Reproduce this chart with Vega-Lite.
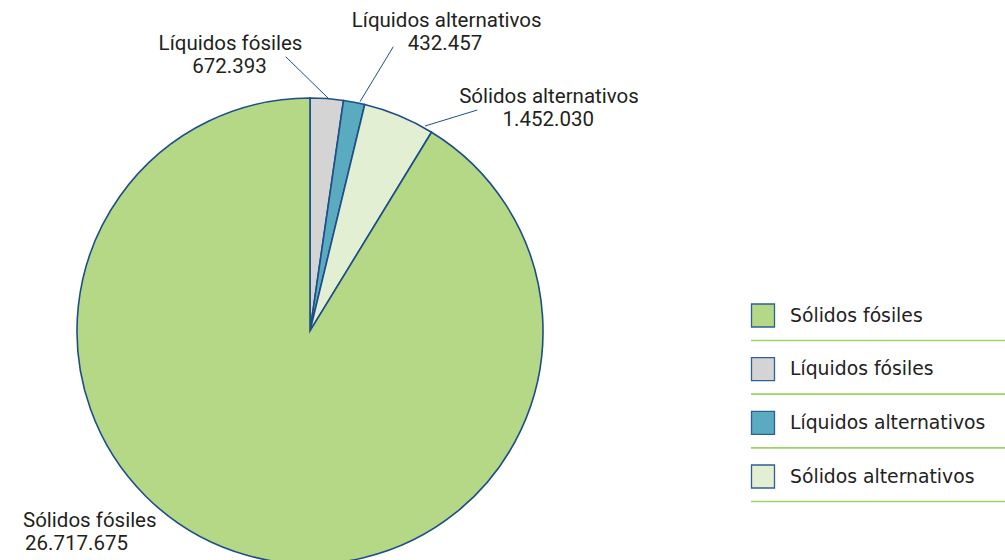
{
  "$schema": "https://vega.github.io/schema/vega-lite/v6.json",
  "width": 1005,
  "height": 560,
  "autosize": {"type": "none"},
  "padding": 0,
  "background": "white",
  "config": {
    "view": {"stroke": null},
    "text": {"font": "Roboto", "fontSize": 20.5, "color": "#231f20"},
    "locale": {"number": {"decimal": ",", "thousands": ".", "grouping": [3], "currency": ["", " €"]}}
  },
  "data": {
    "values": [
      {"category": "Líquidos fósiles", "value": 672393, "orden": 1},
      {"category": "Líquidos alternativos", "value": 432457, "orden": 2},
      {"category": "Sólidos alternativos", "value": 1452030, "orden": 3},
      {"category": "Sólidos fósiles", "value": 26717675, "orden": 4}
    ]
  },
  "resolve": {"scale": {"y": "independent"}},
  "layer": [
    {
      "mark": {"type": "arc", "outerRadius": 233, "stroke": "#1d4e89", "strokeWidth": 1.6},
      "encoding": {
        "x": {"datum": 310, "type": "quantitative", "scale": {"domain": [0, 1005], "nice": false, "zero": false}, "axis": null},
        "y": {"datum": 331, "type": "quantitative", "scale": {"domain": [0, 560], "reverse": true, "nice": false, "zero": false}, "axis": null},
        "theta": {"field": "value", "type": "quantitative", "stack": true},
        "order": {"field": "orden", "type": "quantitative"},
        "color": {
          "field": "category",
          "type": "nominal",
          "scale": {
            "domain": ["Sólidos fósiles", "Líquidos fósiles", "Líquidos alternativos", "Sólidos alternativos"],
            "range": ["#b4d886", "#d4d4d4", "#5aabbf", "#e3efd2"]
          },
          "legend": null
        }
      }
    },
    {
      "encoding": {
        "y": {"field": "category", "type": "nominal", "scale": {"type": "point", "padding": 0, "domain": ["Sólidos fósiles", "Líquidos fósiles", "Líquidos alternativos", "Sólidos alternativos"], "range": [315.5, 476.5]}, "axis": null}
      },
      "layer": [
        {
          "mark": {"type": "rule", "color": "#9dd35f", "strokeWidth": 1.6, "yOffset": 25},
          "encoding": {
            "x": {"datum": 751, "type": "quantitative", "scale": {"domain": [0, 1005], "nice": false, "zero": false}, "axis": null},
            "x2": {"datum": 1005}
          }
        },
        {
          "mark": {"type": "square", "size": 529, "filled": true, "opacity": 1, "stroke": "#2f5f98", "strokeWidth": 1.3},
          "encoding": {
            "x": {"datum": 763, "type": "quantitative", "scale": {"domain": [0, 1005], "nice": false, "zero": false}, "axis": null},
            "color": {"field": "category", "type": "nominal", "legend": null}
          }
        },
        {
          "mark": {"type": "text", "align": "left", "baseline": "middle", "font": "DejaVu Sans", "fontSize": 18.8, "color": "#222222"},
          "encoding": {
            "x": {"datum": 790, "type": "quantitative", "scale": {"domain": [0, 1005], "nice": false, "zero": false}, "axis": null},
            "text": {"field": "category", "type": "nominal"}
          }
        }
      ]
    },
    {
      "transform": [{"filter": "datum.orden == 1"}],
      "layer": [
        {
          "mark": {"type": "rule", "color": "#1d4e89", "strokeWidth": 1},
          "encoding": {
            "x": {"datum": 285.7, "type": "quantitative", "scale": {"domain": [0, 1005], "nice": false, "zero": false}, "axis": null},
            "y": {"datum": 56.7, "type": "quantitative", "scale": {"domain": [0, 560], "reverse": true, "nice": false, "zero": false}, "axis": null},
            "x2": {"datum": 328.3},
            "y2": {"datum": 98.3}
          }
        },
        {
          "mark": {"type": "text", "align": "center", "baseline": "alphabetic"},
          "encoding": {
            "x": {"datum": 230.5, "type": "quantitative", "scale": {"domain": [0, 1005], "nice": false, "zero": false}, "axis": null},
            "y": {"datum": 50, "type": "quantitative", "scale": {"domain": [0, 560], "reverse": true, "nice": false, "zero": false}, "axis": null},
            "text": {"field": "category", "type": "nominal"}
          }
        },
        {
          "mark": {"type": "text", "align": "center", "baseline": "alphabetic"},
          "encoding": {
            "x": {"datum": 229.5, "type": "quantitative", "scale": {"domain": [0, 1005], "nice": false, "zero": false}, "axis": null},
            "y": {"datum": 73, "type": "quantitative", "scale": {"domain": [0, 560], "reverse": true, "nice": false, "zero": false}, "axis": null},
            "text": {"field": "value", "type": "quantitative", "format": ",d"}
          }
        }
      ]
    },
    {
      "transform": [{"filter": "datum.orden == 2"}],
      "layer": [
        {
          "mark": {"type": "rule", "color": "#1d4e89", "strokeWidth": 1},
          "encoding": {
            "x": {"datum": 393.3, "type": "quantitative", "scale": {"domain": [0, 1005], "nice": false, "zero": false}, "axis": null},
            "y": {"datum": 46.7, "type": "quantitative", "scale": {"domain": [0, 560], "reverse": true, "nice": false, "zero": false}, "axis": null},
            "x2": {"datum": 360},
            "y2": {"datum": 101.7}
          }
        },
        {
          "mark": {"type": "text", "align": "center", "baseline": "alphabetic"},
          "encoding": {
            "x": {"datum": 446.7, "type": "quantitative", "scale": {"domain": [0, 1005], "nice": false, "zero": false}, "axis": null},
            "y": {"datum": 26.7, "type": "quantitative", "scale": {"domain": [0, 560], "reverse": true, "nice": false, "zero": false}, "axis": null},
            "text": {"field": "category", "type": "nominal"}
          }
        },
        {
          "mark": {"type": "text", "align": "center", "baseline": "alphabetic"},
          "encoding": {
            "x": {"datum": 445, "type": "quantitative", "scale": {"domain": [0, 1005], "nice": false, "zero": false}, "axis": null},
            "y": {"datum": 50, "type": "quantitative", "scale": {"domain": [0, 560], "reverse": true, "nice": false, "zero": false}, "axis": null},
            "text": {"field": "value", "type": "quantitative", "format": ",d"}
          }
        }
      ]
    },
    {
      "transform": [{"filter": "datum.orden == 3"}],
      "layer": [
        {
          "mark": {"type": "rule", "color": "#1d4e89", "strokeWidth": 1},
          "encoding": {
            "x": {"datum": 477.3, "type": "quantitative", "scale": {"domain": [0, 1005], "nice": false, "zero": false}, "axis": null},
            "y": {"datum": 110, "type": "quantitative", "scale": {"domain": [0, 560], "reverse": true, "nice": false, "zero": false}, "axis": null},
            "x2": {"datum": 425},
            "y2": {"datum": 126}
          }
        },
        {
          "mark": {"type": "text", "align": "center", "baseline": "alphabetic"},
          "encoding": {
            "x": {"datum": 549, "type": "quantitative", "scale": {"domain": [0, 1005], "nice": false, "zero": false}, "axis": null},
            "y": {"datum": 103, "type": "quantitative", "scale": {"domain": [0, 560], "reverse": true, "nice": false, "zero": false}, "axis": null},
            "text": {"field": "category", "type": "nominal"}
          }
        },
        {
          "mark": {"type": "text", "align": "center", "baseline": "alphabetic"},
          "encoding": {
            "x": {"datum": 548.3, "type": "quantitative", "scale": {"domain": [0, 1005], "nice": false, "zero": false}, "axis": null},
            "y": {"datum": 126, "type": "quantitative", "scale": {"domain": [0, 560], "reverse": true, "nice": false, "zero": false}, "axis": null},
            "text": {"field": "value", "type": "quantitative", "format": ",d"}
          }
        }
      ]
    },
    {
      "transform": [{"filter": "datum.orden == 4"}],
      "layer": [
        {
          "mark": {"type": "text", "align": "left", "baseline": "alphabetic"},
          "encoding": {
            "x": {"datum": 23, "type": "quantitative", "scale": {"domain": [0, 1005], "nice": false, "zero": false}, "axis": null},
            "y": {"datum": 526.7, "type": "quantitative", "scale": {"domain": [0, 560], "reverse": true, "nice": false, "zero": false}, "axis": null},
            "text": {"field": "category", "type": "nominal"}
          }
        },
        {
          "mark": {"type": "text", "align": "left", "baseline": "alphabetic"},
          "encoding": {
            "x": {"datum": 25, "type": "quantitative", "scale": {"domain": [0, 1005], "nice": false, "zero": false}, "axis": null},
            "y": {"datum": 549.5, "type": "quantitative", "scale": {"domain": [0, 560], "reverse": true, "nice": false, "zero": false}, "axis": null},
            "text": {"field": "value", "type": "quantitative", "format": ",d"}
          }
        }
      ]
    }
  ]
}
